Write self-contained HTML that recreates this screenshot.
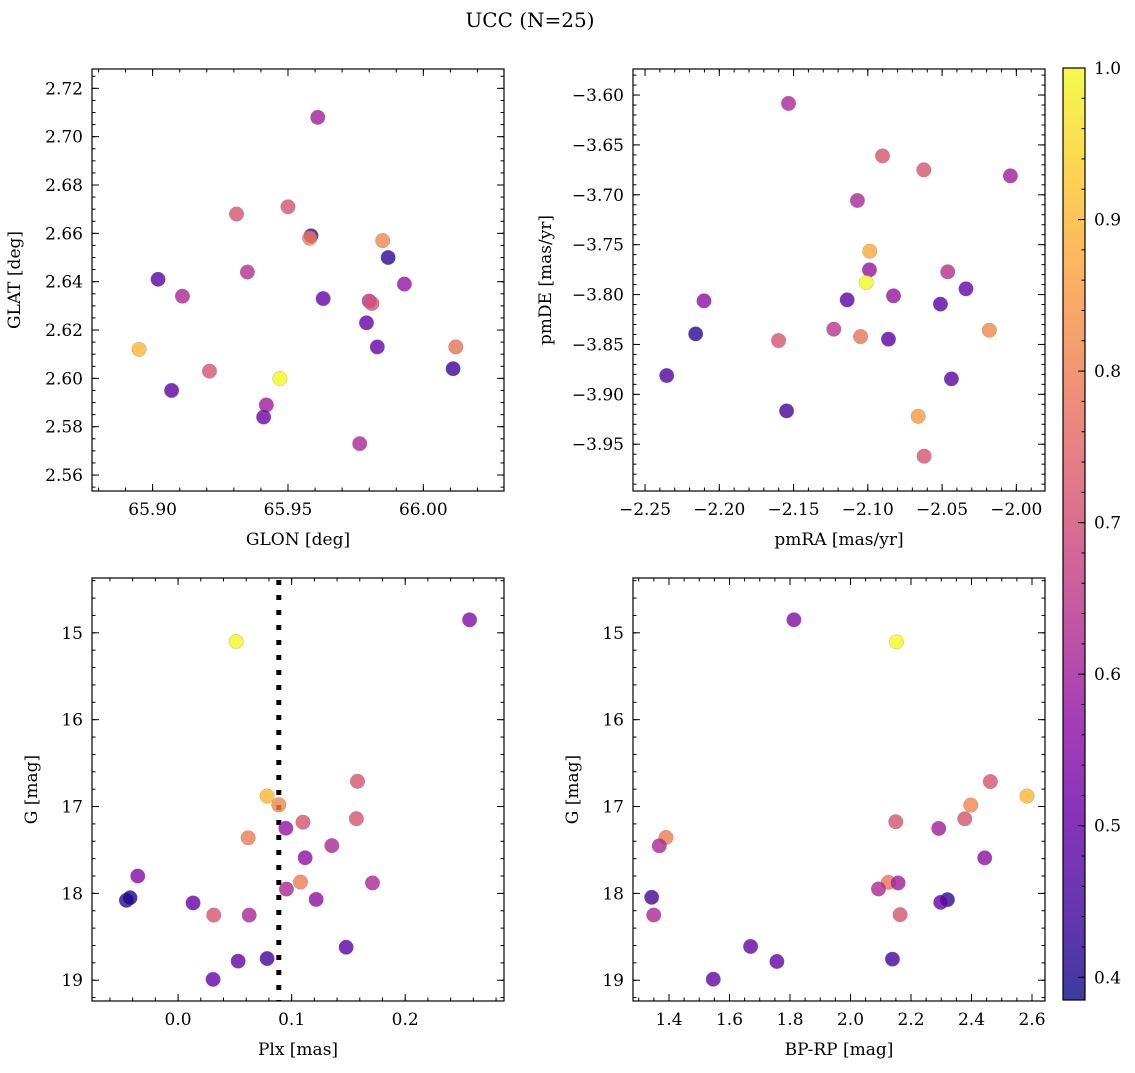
<!DOCTYPE html>
<html><head><meta charset="utf-8"><style>
body{margin:0;background:#fff;}
svg text{font-family:"DejaVu Serif","Liberation Serif",serif;fill:#000;}
</style></head><body>
<svg id="fig" width="1135" height="1068" xmlns="http://www.w3.org/2000/svg">
<rect width="1135" height="1068" fill="#fff"/>
<text x="530" y="27" font-size="20" text-anchor="middle">UCC (N=25)</text>
</svg>
<script>
// Panel 1: GLON vs GLAT
const glon=[65.895,65.902,65.907,65.911,65.921,65.931,65.935,65.942,65.941,65.947,65.950,65.9585,65.958,65.961,65.963,65.9765,65.979,65.980,65.981,65.983,65.985,65.987,65.993,66.011,66.012];
const glat=[2.612,2.641,2.595,2.634,2.603,2.668,2.644,2.589,2.584,2.600,2.671,2.659,2.658,2.708,2.633,2.573,2.623,2.632,2.631,2.613,2.657,2.650,2.639,2.604,2.613];
const c1=[0.9,0.48,0.48,0.62,0.72,0.72,0.64,0.6,0.52,1.0,0.72,0.45,0.8,0.6,0.5,0.62,0.5,0.64,0.72,0.5,0.82,0.42,0.58,0.44,0.78];
// Panel 2: pmRA vs pmDE
const pmra=[-2.1534,-2.0901,-2.0623,-2.0040,-2.1070,-2.0987,-2.0989,-2.1011,-2.0462,-2.0339,-2.0827,-2.1139,-2.2103,-2.0511,-2.1229,-2.0182,-2.1049,-2.0861,-2.1601,-2.2159,-2.2354,-2.0437,-2.1547,-2.0661,-2.0621];
const pmde=[-3.6084,-3.661,-3.675,-3.681,-3.7057,-3.7565,-3.7752,-3.7879,-3.7772,-3.7942,-3.8013,-3.8053,-3.8063,-3.8096,-3.8347,-3.8357,-3.8421,-3.8447,-3.8461,-3.8394,-3.8812,-3.8845,-3.9166,-3.922,-3.962];
const c2=[0.62,0.72,0.72,0.6,0.62,0.88,0.58,1.0,0.64,0.5,0.58,0.48,0.57,0.48,0.65,0.82,0.78,0.48,0.72,0.42,0.47,0.48,0.45,0.85,0.72];
// Panel 3: Plx vs G
const plx=[0.2567,0.0511,0.158,0.0784,0.0887,0.110,0.157,0.0949,0.0617,0.1354,0.1119,-0.0355,0.1078,0.1712,0.0954,-0.0455,-0.0423,0.0132,0.1216,0.0314,0.0626,0.148,0.0529,0.0784,0.0308];
const g3=[14.85,15.10,16.71,16.88,16.98,17.18,17.14,17.25,17.36,17.45,17.59,17.80,17.87,17.88,17.95,18.08,18.05,18.11,18.07,18.25,18.25,18.62,18.78,18.75,18.99];
const c3=[0.55,1.0,0.72,0.9,0.82,0.72,0.72,0.58,0.8,0.62,0.57,0.55,0.8,0.62,0.62,0.42,0.4,0.5,0.57,0.72,0.62,0.48,0.5,0.45,0.5];
const plxLine=0.0887;
// Panel 4: BP-RP vs G
const bprp=[1.8129,2.152,2.4624,2.5835,2.3975,2.1497,2.3777,2.2918,1.390,1.368,2.4437,2.1255,2.1574,2.0925,1.3427,2.3204,2.2984,1.3494,2.164,1.6697,1.7567,2.1387,1.5464];
const g4=[14.85,15.104,16.713,16.879,16.983,17.175,17.141,17.252,17.356,17.452,17.591,17.872,17.880,17.949,18.045,18.072,18.103,18.249,18.245,18.611,18.784,18.757,18.988];
const c4=[0.55,1.0,0.72,0.9,0.82,0.72,0.72,0.6,0.8,0.62,0.57,0.78,0.6,0.62,0.45,0.42,0.5,0.62,0.72,0.5,0.5,0.45,0.5];
// Tick labels
const tl1x=["65.90","65.95","66.00"], tl1y=["2.56","2.58","2.60","2.62","2.64","2.66","2.68","2.70","2.72"];
const tl2x=["−2.25","−2.20","−2.15","−2.10","−2.05","−2.00"], tl2y=["−3.95","−3.90","−3.85","−3.80","−3.75","−3.70","−3.65","−3.60"];
const tl3x=["0.0","0.1","0.2"], tlGy=["15","16","17","18","19"];
const tl4x=["1.4","1.6","1.8","2.0","2.2","2.4","2.6"];
const cbTicks=["0.4","0.5","0.6","0.7","0.8","0.9","1.0"];
const cmin=0.385,cmax=1.0;

const NS="http://www.w3.org/2000/svg";
const svg=document.getElementById('fig');
function mk(tag,attrs,parent){const e=document.createElementNS(NS,tag);for(const k in attrs)e.setAttribute(k,attrs[k]);(parent||svg).appendChild(e);return e;}
const stops=["#0d0887","#41049d","#6a00a8","#8f0da4","#b12a90","#cc4778","#e16462","#f2844b","#fca636","#fcce25","#f0f921"];
function hex(h){return [parseInt(h.substr(1,2),16),parseInt(h.substr(3,2),16),parseInt(h.substr(5,2),16)];}
function plasma(t){t=Math.max(0,Math.min(1,t));const f=t*10,i=Math.min(9,Math.floor(f)),r=f-i;const a=hex(stops[i]),b=hex(stops[i+1]);return `rgb(${a.map((v,k)=>Math.round(v+(b[k]-v)*r)).join(',')})`;}
function cval(v){return plasma((v-cmin)/(cmax-cmin));}

const FS=17;
function panel(o){
  const g=mk('g',{});
  
  
  const X=v=>o.x0+(v-o.xmin)/(o.xmax-o.xmin)*(o.x1-o.x0);
  const Y=v=>o.inv? o.y0+(v-o.ymin)/(o.ymax-o.ymin)*(o.y1-o.y0) : o.y1-(v-o.ymin)/(o.ymax-o.ymin)*(o.y1-o.y0);
  const tk=mk('g',{stroke:'#000','stroke-width':1},g);
  
  
  for(let v=Math.ceil(o.xmin/o.xminor)*o.xminor;v<=o.xmax;v+=o.xminor){const x=X(v);mk('line',{x1:x,x2:x,y1:o.y1,y2:o.y1-3.5},tk);mk('line',{x1:x,x2:x,y1:o.y0,y2:o.y0+3.5},tk);}
  for(let v=Math.ceil(o.ymin/o.yminor)*o.yminor;v<=o.ymax;v+=o.yminor){const y=Y(v);mk('line',{x1:o.x0,x2:o.x0+3.5,y1:y,y2:y},tk);mk('line',{x1:o.x1,x2:o.x1-3.5,y1:y,y2:y},tk);}
  o.xt.forEach((s,i)=>{const v=o.xt0+i*o.xstep,x=X(v);mk('line',{x1:x,x2:x,y1:o.y1,y2:o.y1-7},tk);mk('line',{x1:x,x2:x,y1:o.y0,y2:o.y0+7},tk);
    const t=mk('text',{x:x,y:o.y1+24,'font-size':FS,'text-anchor':'middle'},g);t.textContent=s;});
  o.yt.forEach((s,i)=>{const v=o.yt0+i*o.ystep,y=Y(v);mk('line',{x1:o.x0,x2:o.x0+7,y1:y,y2:y},tk);mk('line',{x1:o.x1,x2:o.x1-7,y1:y,y2:y},tk);
    const t=mk('text',{x:o.x0-9,y:y+6,'font-size':FS,'text-anchor':'end'},g);t.textContent=s;});
  if(o.vline!==undefined){const l=mk('line',{x1:X(o.vline),x2:X(o.vline),y1:o.y0+2,y2:o.y1,stroke:'#000','stroke-width':5,'stroke-dasharray':'5 10'},g);}
  o.xs.forEach((xv,i)=>{const c=mk('circle',{cx:X(xv),cy:Y(o.ys[i]),r:7.3,fill:cval(o.cs[i]),'fill-opacity':0.8,stroke:'#777','stroke-width':0.4,'stroke-opacity':0.6},g);
    });
  const fr=mk('rect',{x:o.x0,y:o.y0,width:o.x1-o.x0,height:o.y1-o.y0,fill:'none',stroke:'#000','stroke-width':1.2},g);
  
  const xl=mk('text',{x:(o.x0+o.x1)/2,y:o.y1+54,'font-size':FS,'text-anchor':'middle'},g);xl.textContent=o.xlab;
  
  const yx=o.x0-o.ylOff;const yl=mk('text',{x:yx,y:(o.y0+o.y1)/2,'font-size':FS,'text-anchor':'middle',transform:`rotate(-90 ${yx} ${(o.y0+o.y1)/2})`},g);yl.textContent=o.ylab;
  
}
panel({name:'glon-glat-panel',x0:92,x1:504,y0:69,y1:491,xmin:65.8776,xmax:66.0298,ymin:2.5534,ymax:2.728,xminor:0.01,yminor:0.005,xt:tl1x,xt0:65.90,xstep:0.05,yt:tl1y,yt0:2.56,ystep:0.02,xs:glon,ys:glat,cs:c1,xlab:'GLON [deg]',ylab:'GLAT [deg]',ylOff:72});
panel({name:'proper-motion-panel',x0:633,x1:1045,y0:69,y1:491,xmin:-2.2581,xmax:-1.9807,ymin:-3.9969,ymax:-3.5739,xminor:0.01,yminor:0.01,xt:tl2x,xt0:-2.25,xstep:0.05,yt:tl2y,yt0:-3.95,ystep:0.05,xs:pmra,ys:pmde,cs:c2,xlab:'pmRA [mas/yr]',ylab:'pmDE [mas/yr]',ylOff:82});
panel({name:'plx-g-panel',x0:92,x1:504,y0:578,y1:1001,xmin:-0.0758,xmax:0.287,ymin:14.369,ymax:19.239,inv:true,xminor:0.02,yminor:0.2,xt:tl3x,xt0:0,xstep:0.1,yt:tlGy,yt0:15,ystep:1,xs:plx,ys:g3,cs:c3,xlab:'Plx [mas]',ylab:'G [mag]',ylOff:55,vline:plxLine});
panel({name:'cmd-panel',x0:633,x1:1045,y0:578,y1:1001,xmin:1.281,xmax:2.643,ymin:14.369,ymax:19.239,inv:true,xminor:0.05,yminor:0.2,xt:tl4x,xt0:1.4,xstep:0.2,yt:tlGy,yt0:15,ystep:1,xs:bprp,ys:g4,cs:c4,xlab:'BP-RP [mag]',ylab:'G [mag]',ylOff:55});

// colorbar
const cb=mk('g',{});
const cx0=1063,cx1=1085,cy0=68,cy1=1000;
const defs=mk('defs',{},cb);const lg=mk('linearGradient',{id:'cbg',x1:0,y1:1,x2:0,y2:0},defs);
for(let i=0;i<=20;i++){mk('stop',{offset:i/20,'stop-color':plasma(i/20),'stop-opacity':0.8},lg);}
mk('rect',{x:cx0,y:cy0,width:cx1-cx0,height:cy1-cy0,fill:'url(#cbg)',stroke:'#000','stroke-width':1.2},cb);
const CY=v=>cy1-(v-cmin)/(cmax-cmin)*(cy1-cy0);
for(let v=0.4;v<=1.0001;v+=0.02){mk('line',{x1:cx1,x2:cx1-3.5,y1:CY(v),y2:CY(v),stroke:'#000'},cb);}
cbTicks.forEach(s=>{const v=parseFloat(s),y=CY(v);mk('line',{x1:cx1,x2:cx1-7,y1:y,y2:y,stroke:'#000'},cb);
  const t=mk('text',{x:cx1+9,y:y+6,'font-size':FS},cb);t.textContent=s;});
</script>
</body></html>
